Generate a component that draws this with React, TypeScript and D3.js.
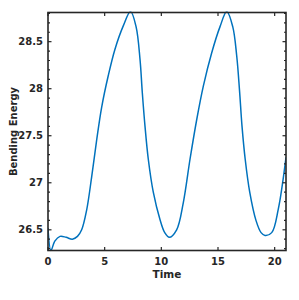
import React from "react";
import * as d3 from "d3";

// values
const time = [0, 0.26, 0.6, 1.06, 1.6, 2.15, 2.6, 2.97, 3.41, 3.85, 4.29, 4.73, 5.32, 5.91, 6.65, 7.28, 7.77, 8.12, 8.32, 8.56, 8.85, 9.29, 9.88, 10.3, 10.7, 11.35, 11.94, 12.53, 13.12, 13.71, 14.44, 15.18, 15.77, 16.3, 16.65, 16.9, 17.12, 17.4, 17.8, 18.35, 18.8, 19.15, 19.74, 20.32, 21];
const energy = [26.52, 26.28, 26.38, 26.43, 26.42, 26.4, 26.43, 26.5, 26.71, 27.06, 27.45, 27.8, 28.14, 28.42, 28.67, 28.82, 28.66, 28.31, 27.96, 27.6, 27.25, 26.9, 26.61, 26.47, 26.42, 26.5, 26.79, 27.25, 27.67, 28.03, 28.38, 28.66, 28.82, 28.66, 28.35, 27.98, 27.6, 27.25, 26.9, 26.6, 26.47, 26.44, 26.47, 26.72, 27.27];

const xTicks = [0, 5, 10, 15, 20];
const yTicks = [26.5, 27, 27.5, 28, 28.5];

const W = 299;
const H = 300;
const left = 48;
const right = 286;
const top = 12.5;
const bottom = 250.5;

const App = () => {
  const x = d3.scaleLinear().domain([0, 21]).range([left, right]);
  const y = d3.scaleLinear().domain([26.28, 28.81]).range([bottom, top]);

  const pts: [number, number][] = time.map((t, i) => [t, energy[i]]);
  const line = d3
    .line<[number, number]>()
    .x((d) => x(d[0]))
    .y((d) => y(d[1]))
    .curve(d3.curveCatmullRom.alpha(0.5));

  const minor = d3.range(26.3, 28.81, 0.1).map((v) => +v.toFixed(1));
  const axisCol = "#262626";
  const font = "DejaVu Sans, sans-serif";

  return (
    <svg width={W} height={H} style={{ position: "absolute", left: 0, top: 0 }}>
      <rect width={W} height={H} fill="white" />
      <defs>
        <clipPath id="plotclip">
          <rect x={left} y={top - 1} width={right - left} height={bottom - top + 2} />
        </clipPath>
      </defs>
      <path d={line(pts) || ""} fill="none" stroke="#0072BD" strokeWidth={1.5} clipPath="url(#plotclip)" />
      {/* y minor + major ticks, both sides */}
      {minor.map((v) => {
        const major = yTicks.some((t) => Math.abs(t - v) < 1e-6);
        const len = major ? 3.5 : 2;
        return (
          <g key={"m" + v} stroke={axisCol} strokeWidth={1.2}>
            <line x1={left} x2={left + len} y1={y(v)} y2={y(v)} />
            <line x1={right} x2={right - len} y1={y(v)} y2={y(v)} />
          </g>
        );
      })}
      {xTicks.map((t) => (
        <g key={"x" + t} stroke={axisCol} strokeWidth={1.2}>
          <line x1={x(t)} x2={x(t)} y1={bottom} y2={bottom - 3.5} />
          <line x1={x(t)} x2={x(t)} y1={top} y2={top + 3.5} />
        </g>
      ))}
      <rect x={left} y={top} width={right - left} height={bottom - top} fill="none" stroke={axisCol} strokeWidth={1.6} />
      {yTicks.map((t) => (
        <text key={"yl" + t} x={left - 5} y={y(t)} dy="0.35em" textAnchor="end" fontFamily={font} fontWeight="bold" fontSize={10} fill={axisCol}>
          {t}
        </text>
      ))}
      {xTicks.map((t) => (
        <text key={"xl" + t} x={x(t)} y={bottom + 14} textAnchor="middle" fontFamily={font} fontWeight="bold" fontSize={10} fill={axisCol}>
          {t}
        </text>
      ))}
      <text x={(left + right) / 2} y={bottom + 27} textAnchor="middle" fontFamily={font} fontWeight="bold" fontSize={10.5} fill={axisCol}>
        Time
      </text>
      <text transform={`translate(16.5,${(top + bottom) / 2}) rotate(-90)`} textAnchor="middle" fontFamily={font} fontWeight="bold" fontSize={10} fill={axisCol}>
        Bending Energy
      </text>
    </svg>
  );
};

export default App;
